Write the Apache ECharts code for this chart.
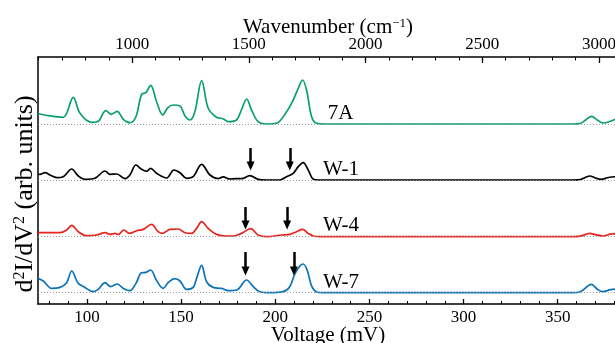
<!DOCTYPE html>
<html>
<head>
<meta charset="utf-8">
<script src="https://cdn.jsdelivr.net/npm/echarts@6/dist/echarts.min.js"></script>
<style>html,body{margin:0;padding:0;background:#fff}#c{width:615px;height:343px}</style>
</head>
<body>
<div id="c"></div>
<script>
// ---- data (voltage in mV, relative d2I/dV2 amplitude in arb. units) ----
const v7A = [74, 75, 79.5, 87.4, 92.7, 96.3, 102.5, 106, 110, 113, 116, 119.3, 122.8, 126, 129, 131.3, 133.8, 137, 140.2, 143, 145.8, 149.4, 152, 154.7, 157.3, 160.9, 164.4, 168.8, 172.3, 175, 179.4, 182, 184.8, 187.4, 190.9, 195.4, 200.7, 206, 209.5, 212.2, 214.5, 216.6, 219.3, 221.9, 226, 260, 300, 340, 358, 361.7, 364.8, 367.9, 371, 374, 377, 380, 382];
const h7A = [10.5, 10, 8.3, 6.7, 26.7, 10.7, 1.7, 2.7, 13.3, 9.7, 12.7, 4.7, 1.3, 7.3, 29.7, 31.3, 38.7, 22.3, 9, 16.3, 19, 18, 8.3, 4, 12.3, 43.3, 15.7, 6.7, 5.2, 2.3, 4, 14, 25, 14, 2.3, 0, 0.7, 12.3, 24, 35.7, 44, 34, 7.3, 0.7, 0, 0, 0, 0, 0, 0.5, 4, 7.7, 4, 1, 2, 4.3, 5];

const vW1 = [74, 75, 77.7, 80.4, 83.9, 87.4, 91.9, 95.4, 98.9, 104.2, 109.6, 112.2, 115.8, 120.2, 122.8, 126, 129, 131.7, 133.8, 137, 142.3, 146.2, 149.4, 152.9, 156.4, 160.9, 165.3, 169.7, 172.3, 175.9, 179, 182.1, 186.5, 190.9, 195.4, 202.4, 206, 209.5, 212.2, 214.8, 217.5, 220.2, 223, 260, 300, 340, 358, 362, 367, 370, 373, 377, 382];
const hW1 = [6, 5.7, 7.3, 5, 2.3, 3.3, 11, 4, 0.7, 1.7, 9, 5.7, 6, 1.3, 5, 15, 10.7, 8.7, 11.7, 6.7, 2, 10, 7.3, 1.7, 3.3, 15.7, 5, 1.5, 3.2, 1, 1.3, 1.3, 4.3, 0.7, 0, 0, 3.3, 6.7, 13.3, 17.3, 10, 0.7, 0, 0, 0, 0, 0, 0.5, 4, 2, 0.7, 2.5, 3.5];

const vW4 = [74, 75, 85.7, 89.2, 91.9, 95.4, 99.8, 105.1, 109.6, 112.2, 114.9, 116.6, 119.6, 122.5, 126.4, 129.9, 134.3, 137.8, 140.2, 144, 148.5, 152, 155.6, 158.2, 160.9, 164.4, 168.8, 174.1, 177.7, 182.1, 186.9, 190.9, 195.4, 203.3, 207.7, 211.3, 214.5, 217.5, 220.2, 224, 260, 300, 340, 358, 362, 367, 370, 374, 378, 382];
const hW4 = [4, 4, 4, 6.7, 11.3, 5, 1, 1.7, 4, 2.3, 3.3, 2.3, 6.7, 3.3, 6, 7.3, 12.3, 5, 3.3, 7.3, 7.7, 4, 3.3, 8.3, 15, 8.3, 2.3, 0.7, 0.7, 3.3, 8, 1.7, 0, 1.7, 2.3, 5, 7.3, 3.3, 0.7, 0, 0, 0, 0, 0, 0.5, 3.3, 2, 0.7, 2.5, 3.3];

const vW7 = [74, 76.8, 81.3, 85.7, 89.2, 91.9, 95.4, 98.9, 103.3, 106, 109.6, 112.6, 116.1, 119.3, 122.8, 126, 129, 131.3, 133.8, 137, 140.5, 143.1, 146.7, 149.4, 152.9, 156.4, 158.2, 160.9, 163.5, 167, 171.5, 175, 179.5, 184.8, 188.3, 191.8, 197.1, 204.2, 207.7, 210.4, 213.1, 214.8, 216.9, 219.3, 221.9, 225, 260, 300, 340, 358, 362, 367.9, 371, 374, 378, 382];
const hW7 = [14.3, 11.7, 4.3, 5.3, 10, 21.7, 9.3, 5.3, 1, 3.3, 10, 6, 8.7, 4.3, 2, 9.3, 20, 20.3, 22.7, 12, 4.3, 10, 14, 11.7, 3.3, 5.3, 14.3, 27.3, 11, 5.3, 4.3, 2, 2.7, 12.7, 6, 1, 0, 1, 6, 18.7, 26.7, 28.7, 22.7, 6.7, 0.7, 0, 0, 0, 0, 0, 1, 8.3, 3.5, 1, 3, 4];

// tick values
const voltTicks = [100, 150, 200, 250, 300, 350];
const voltMinorTicks = [80, 90, 110, 120, 130, 140, 160, 170, 180, 190, 210, 220, 230, 240, 260, 270, 280, 290, 310, 320, 330, 340, 360, 370, 380];
const waveTicks = [1000, 1500, 2000, 2500, 3000];
const waveMinorTicks = [600, 700, 800, 900, 1100, 1200, 1300, 1400, 1600, 1700, 1800, 1900, 2100, 2200, 2300, 2400, 2600, 2700, 2800, 2900];

// vertical offsets of each trace (arb. units)
const offsets = {'7A': 180, 'W-1': 124, 'W-4': 67.3, 'W-7': 11.3};
const names = ['7A', 'W-1', 'W-4', 'W-7'];
const volts = [v7A, vW1, vW4, vW7];
const heights = [h7A, hW1, hW4, hW7];
const colors = ['#0a9e73', '#000000', '#e8231c', '#0a72b8'];
// arrow annotations: [voltage, start height, end height] relative to baseline
const arrows = {
  '7A': [],
  'W-1': [[186.9, 32, 14], [207.7, 32, 14]],
  'W-4': [[184.2, 29.7, 11.7], [206.3, 29.7, 11.7]],
  'W-7': [[184.2, 40.7, 21.7], [209.9, 40.7, 21.7]]
};
// label anchors: [voltage, height above baseline]
const labelPos = {'7A': [227.9, 11], 'W-1': [225.3, 10.5], 'W-4': [225.3, 11.2], 'W-7': [225.3, 10.2]};

const vMin = 74, vMax = 382;
const mV2cm = 8.0655;
const serif = "'Liberation Serif', 'Times New Roman', serif";

const series = names.map((n, i) => {
  const off = offsets[n];
  const data = volts[i].map((v, k) => [v, heights[i][k] + off]);
  return {
    name: n, type: 'line', xAxisIndex: 0, yAxisIndex: 0,
    data, smooth: 0.35, showSymbol: false, symbol: 'none',
    lineStyle: {color: colors[i], width: 1.7}, z: 3,
    markLine: {
      silent: true, animation: false, symbol: ['none', 'none'],
      data: [
        {yAxis: off, lineStyle: {color: '#9a9a9a', type: [1, 2], width: 1}, label: {show: false}}
      ].concat(arrows[n].map(a => [
        {coord: [a[0], a[1] + off], symbol: 'none'},
        {coord: [a[0], a[2] + off], symbol: 'triangle', symbolSize: [8, 9], symbolRotate: 180}
      ])),
      lineStyle: {color: '#000', width: 2.5, type: 'solid'},
      label: {show: false}, emphasis: {disabled: true}
    },
    markPoint: {
      silent: true, animation: false,
      data: [{coord: [labelPos[n][0], labelPos[n][1] + off], symbol: 'circle', symbolSize: 0,
        label: {show: true, formatter: n, position: [0, 0], align: 'left', verticalAlign: 'middle',
          fontFamily: serif, fontSize: 21, color: '#000'}}]
    }
  };
});

const baseAxis = {
  type: 'value', splitLine: {show: false}, nameMoveOverlap: false,
  axisLine: {onZero: false, lineStyle: {color: '#000', width: 1.5}}
};
const plain = v => String(Math.round(v));

const chart = echarts.init(document.getElementById('c'), null, {renderer: 'canvas'});
chart.setOption({
  animation: false,
  backgroundColor: '#fff',
  grid: {left: 38, right: -3, top: 57, bottom: 39, containLabel: false, outerBoundsMode: 'none'},
  xAxis: [
    Object.assign({}, baseAxis, {
      position: 'bottom', min: vMin, max: vMax,
      name: 'Voltage (mV)', nameLocation: 'middle', nameGap: 21,
      nameTextStyle: {fontFamily: serif, fontSize: 21, color: '#000'},
      axisTick: {inside: true, length: 5, customValues: voltTicks, lineStyle: {color: '#000', width: 1.3}},
      axisLabel: {margin: 5, fontFamily: serif, fontSize: 17, color: '#000', customValues: voltTicks, formatter: plain}
    }),
    Object.assign({}, baseAxis, {
      position: 'top', min: vMin * mV2cm, max: vMax * mV2cm,
      name: 'Wavenumber (cm{sup|−1})', nameLocation: 'middle', nameGap: 19,
      nameTextStyle: {fontFamily: serif, fontSize: 21, color: '#000',
        rich: {sup: {fontFamily: serif, fontSize: 13, verticalAlign: 'top', color: '#000'}}},
      axisTick: {inside: true, length: 6, customValues: waveTicks, lineStyle: {color: '#000', width: 1.3}},
      axisLabel: {margin: 4, fontFamily: serif, fontSize: 17, color: '#000', customValues: waveTicks, formatter: plain}
    }),
    Object.assign({}, baseAxis, {
      position: 'bottom', min: vMin, max: vMax, axisLine: {show: false},
      axisTick: {inside: true, length: 3, customValues: voltMinorTicks, lineStyle: {color: '#000', width: 1}},
      axisLabel: {show: false}
    }),
    Object.assign({}, baseAxis, {
      position: 'top', min: vMin * mV2cm, max: vMax * mV2cm, axisLine: {show: false},
      axisTick: {inside: true, length: 3.5, customValues: waveMinorTicks, lineStyle: {color: '#000', width: 1}},
      axisLabel: {show: false}
    })
  ],
  yAxis: {
    type: 'value', min: 0, max: 247,
    axisLine: {show: true, lineStyle: {color: '#000', width: 1.5}},
    axisTick: {show: false}, axisLabel: {show: false}, splitLine: {show: false}
  },
  graphic: [{
    type: 'text', x: 25, y: 194, rotation: Math.PI / 2,
    style: {
      text: 'd{sup|2}I/dV{sup|2} (arb. units)', align: 'center', verticalAlign: 'middle',
      font: "26px 'Liberation Serif', 'Times New Roman', serif", fill: '#000',
      rich: {sup: {fontSize: 16, fontFamily: serif, verticalAlign: 'top', fill: '#000'}}
    }
  }],
  series
});
</script>
</body>
</html>
